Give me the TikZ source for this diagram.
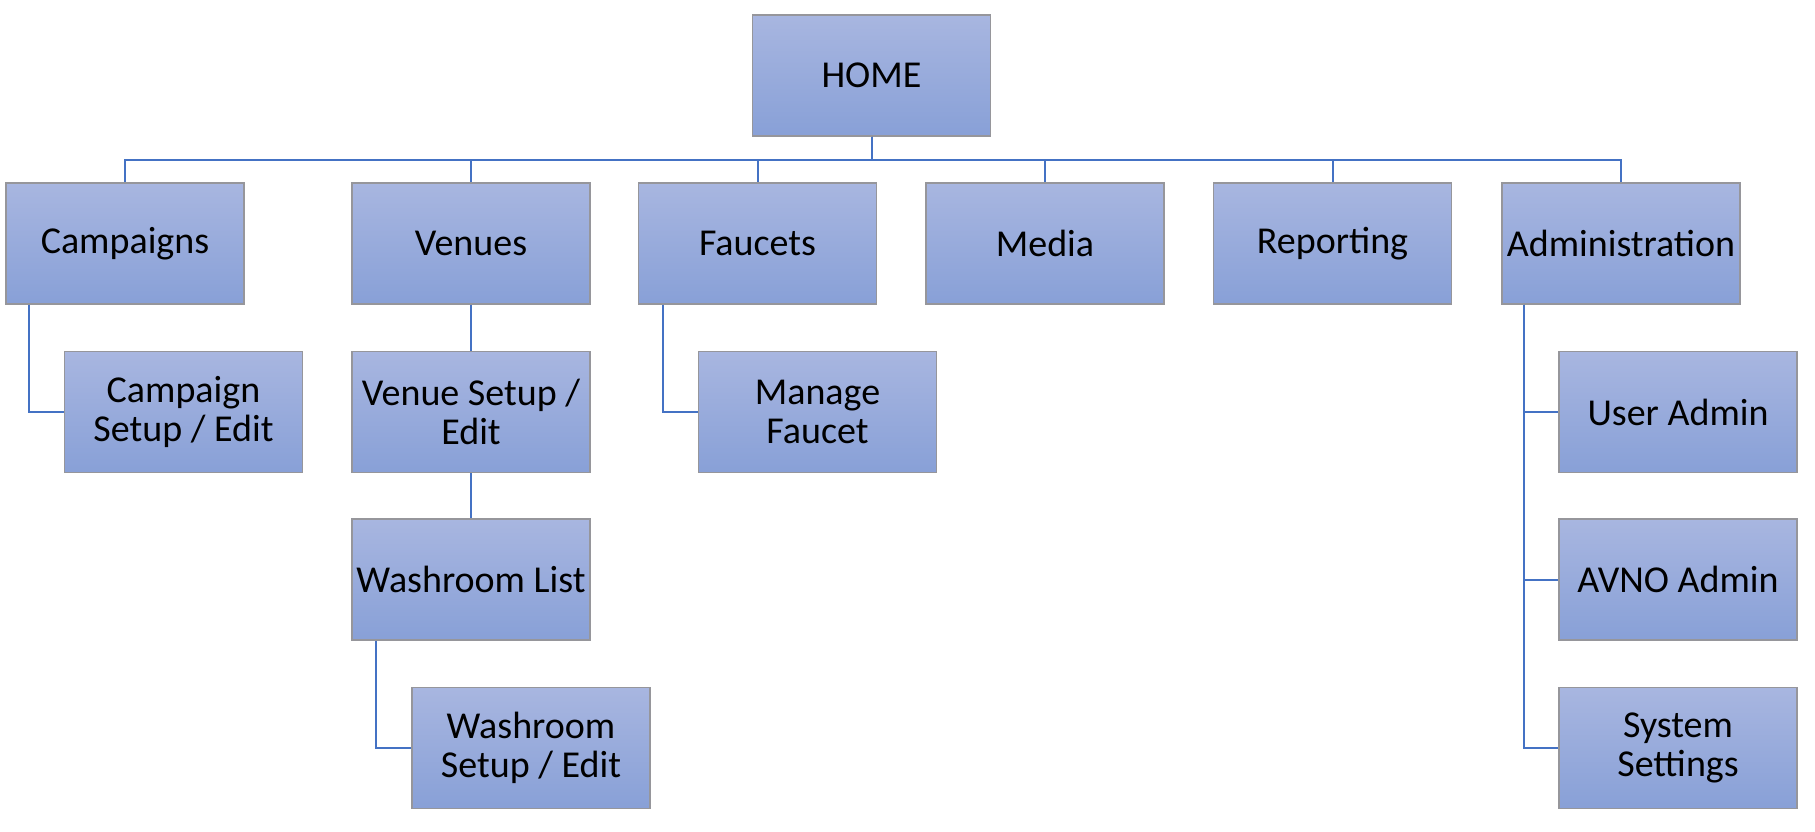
\documentclass[tikz,border=0pt]{standalone}
\usepackage{fontspec}
\setmainfont{Carlito}
\usepackage{tikz}

\definecolor{boxtop}{RGB}{168,182,224}
\definecolor{boxbot}{RGB}{136,160,215}
\definecolor{boxline}{RGB}{150,150,155}
\definecolor{linkblue}{RGB}{68,114,196}

\begin{document}
\begin{tikzpicture}[x=0.5pt,y=-0.5pt,
  every node/.style={rectangle,draw=boxline,line width=0.6pt,top color=boxtop,bottom color=boxbot,
    minimum width=119pt,minimum height=60.5pt,inner sep=0pt,align=center,
    font=\fontsize{19}{19.5}\selectfont},
  link/.style={draw=linkblue,line width=1pt}]
\useasboundingbox (0,0) rectangle (1815,831);
\node (home) at (871.5, 75.5) {HOME};
\node (camp) at (125, 243.5) {Campaigns};
\node (ven) at (471, 243.5) {Venues};
\node (fau) at (757.5, 243.5) {Faucets};
\node (med) at (1045, 243.5) {Media};
\node (rep) at (1332.5, 243.5) {Reporting};
\node (adm) at (1621, 243.5) {Administration};
\node (campedit) at (183.5, 412) {Campaign\\Setup / Edit};
\node (venedit) at (471, 412) {Venue Setup /\\Edit};
\node (wlist) at (471, 579.5) {Washroom List};
\node (wedit) at (531, 748) {Washroom\\Setup / Edit};
\node (faumng) at (817.5, 412) {Manage\\Faucet};
\node (user) at (1678, 412) {User Admin};
\node (avno) at (1678, 579.5) {AVNO Admin};
\node (sys) at (1678, 748) {System\\Settings};
\foreach \n in {camp,ven,fau,med,rep,adm}
  \draw [link] (home.south) -- ++(0,23) -| (\n.north);
\draw [link] (ven) to (venedit);
\draw [link] (venedit) to (wlist);
\draw [link] (camp.south west) ++(24,0) |- (campedit.west);
\draw [link] (fau.south west) ++(25,0) |- (faumng.west);
\draw [link] (wlist.south west) ++(25,0) |- (wedit.west);
\foreach \n in {user,avno,sys}
  \draw [link] (adm.south west) ++(23,0) |- (\n.west);
\end{tikzpicture}
\end{document}
